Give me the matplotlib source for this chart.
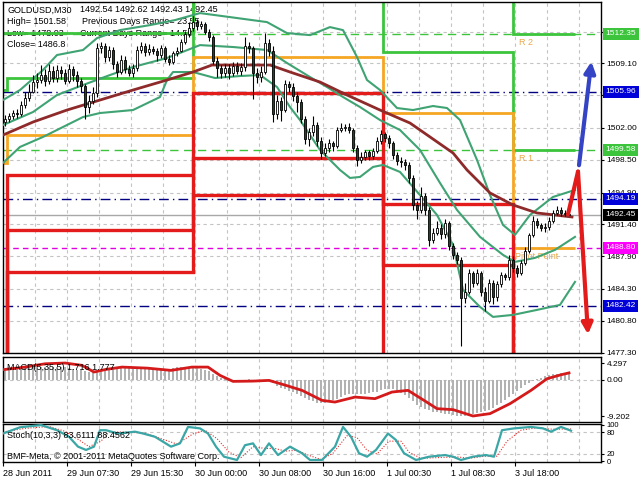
import matplotlib
matplotlib.use('Agg')
import matplotlib.pyplot as plt
import matplotlib.transforms as mtransforms
import numpy as np

plt.rcParams['font.family'] = ['Liberation Sans', 'DejaVu Sans']

# ---- candles (M30 bars) ----
opens = [1502.6, 1503.0, 1503.3, 1503.6, 1503.5, 1504.5, 1505.3, 1506.0, 1507.0, 1507.3,
         1507.8, 1507.2, 1508.3, 1507.5, 1508.4, 1508.0, 1507.2, 1508.5, 1507.8, 1507.2,
         1506.6, 1504.3, 1505.0, 1505.8, 1510.8, 1511.0, 1509.8, 1510.6, 1509.0, 1508.2,
         1509.5, 1508.5, 1508.0, 1508.6, 1510.6, 1511.0, 1510.3, 1510.7, 1510.5, 1510.0,
         1510.8, 1509.6, 1509.3, 1510.2, 1510.5, 1511.4, 1512.3, 1513.0, 1513.6, 1513.2,
         1513.4, 1512.6, 1512.0, 1509.4, 1508.6, 1508.0, 1508.6, 1508.0, 1508.8, 1508.3,
         1508.7, 1511.0, 1510.8, 1508.0, 1507.6, 1508.2, 1511.3, 1510.5, 1503.5, 1505.0,
         1504.0, 1506.8, 1506.5, 1505.5, 1504.8, 1503.0, 1500.8, 1501.5, 1502.3, 1500.6,
         1499.2, 1499.8, 1500.3, 1500.0, 1501.8, 1502.0, 1502.1, 1501.8, 1499.8, 1498.5,
         1498.8, 1499.3, 1498.9, 1499.5, 1500.6, 1501.3, 1500.9, 1500.3, 1499.0, 1498.4,
         1498.2, 1497.9, 1496.5, 1493.5, 1493.0, 1494.5, 1493.0, 1489.7, 1490.5, 1491.0,
         1490.3, 1491.5, 1489.0, 1488.0, 1487.5, 1483.3, 1484.0, 1486.0, 1485.0, 1486.1,
         1484.0, 1483.0, 1485.0, 1483.4, 1484.8, 1485.8, 1485.6, 1487.5, 1486.6, 1486.0,
         1487.1, 1488.5, 1490.2, 1491.8, 1491.3, 1491.0, 1491.1, 1491.8, 1492.6, 1493.0,
         1492.7, 1492.54]
highs = [1503.4, 1503.6, 1504.0, 1504.1, 1505.0, 1505.9, 1506.8, 1507.8, 1508.0, 1508.9,
         1508.5, 1509.0, 1508.8, 1508.9, 1508.8, 1508.5, 1509.0, 1508.8, 1508.3, 1507.5,
         1506.8, 1505.6, 1506.5, 1511.3, 1511.5, 1511.3, 1511.0, 1510.9, 1509.4, 1510.0,
         1509.9, 1508.9, 1509.0, 1511.0, 1511.5, 1511.3, 1511.2, 1511.0, 1510.8, 1511.1,
         1511.0, 1510.0, 1510.5, 1510.9, 1511.8, 1512.7, 1513.6, 1514.3, 1514.0, 1513.8,
         1513.6, 1512.9, 1512.2, 1509.8, 1508.9, 1509.0, 1509.0, 1509.2, 1509.2, 1509.1,
         1512.0, 1511.5, 1511.0, 1508.6, 1508.8, 1512.4, 1511.8, 1511.0, 1505.6, 1505.4,
         1507.3, 1507.2, 1506.9, 1505.9, 1505.2, 1503.3, 1502.0, 1503.3, 1502.6, 1501.0,
         1500.3, 1500.8, 1500.6, 1502.1, 1502.5, 1502.4, 1502.5, 1502.0, 1500.1, 1499.3,
         1499.6, 1499.6, 1499.8, 1501.0, 1501.8, 1501.6, 1501.2, 1500.6, 1499.4, 1498.8,
         1498.6, 1498.3, 1496.8, 1494.0, 1495.5, 1494.9, 1493.3, 1491.0, 1491.8, 1491.4,
         1492.0, 1491.8, 1489.3, 1488.4, 1487.8, 1485.0, 1486.5, 1486.3, 1486.5, 1486.3,
         1484.5, 1485.4, 1485.3, 1485.2, 1486.2, 1486.1, 1488.0, 1487.9, 1486.9, 1487.5,
         1488.9, 1490.5, 1492.3, 1492.1, 1491.6, 1491.5, 1492.2, 1493.0, 1493.4, 1493.3,
         1493.0, 1492.62]
lows = [1502.2, 1502.7, 1503.0, 1503.1, 1503.3, 1504.2, 1505.0, 1505.8, 1506.4, 1506.9,
        1506.6, 1506.8, 1507.0, 1507.1, 1507.4, 1506.8, 1506.9, 1507.2, 1506.5, 1506.0,
        1503.0, 1503.6, 1504.6, 1505.4, 1510.2, 1509.2, 1509.4, 1508.5, 1507.6, 1507.9,
        1508.0, 1507.7, 1507.6, 1508.3, 1510.2, 1509.9, 1510.0, 1510.1, 1509.4, 1509.7,
        1509.2, 1508.9, 1509.0, 1509.9, 1510.3, 1511.2, 1512.0, 1512.7, 1512.8, 1512.9,
        1512.3, 1511.6, 1509.0, 1507.6, 1507.5, 1507.6, 1507.4, 1507.7, 1507.9, 1507.8,
        1508.3, 1510.2, 1505.2, 1506.9, 1507.1, 1507.9, 1509.9, 1502.6, 1503.0, 1502.8,
        1503.7, 1505.9, 1505.0, 1503.8, 1502.5, 1500.2, 1500.0, 1501.1, 1500.0, 1498.6,
        1498.9, 1499.4, 1499.5, 1499.8, 1501.5, 1501.7, 1501.4, 1499.3, 1497.8, 1498.1,
        1498.5, 1498.5, 1498.6, 1499.2, 1500.2, 1500.5, 1499.8, 1498.6, 1497.9, 1497.7,
        1497.4, 1496.0, 1493.0, 1492.0, 1492.6, 1492.4, 1489.0, 1489.4, 1490.2, 1489.8,
        1489.9, 1488.6, 1487.6, 1487.0, 1478.0, 1482.8, 1483.7, 1484.5, 1484.7, 1483.5,
        1481.9, 1482.7, 1482.6, 1483.0, 1484.5, 1485.3, 1485.3, 1486.2, 1485.6, 1485.8,
        1486.9, 1488.3, 1490.0, 1491.0, 1490.7, 1490.6, 1490.8, 1491.6, 1492.4, 1492.3,
        1492.3, 1492.43]
closes = [1503.0, 1503.3, 1503.6, 1503.5, 1504.5, 1505.3, 1506.0, 1507.0, 1507.3, 1507.8,
          1507.2, 1508.3, 1507.5, 1508.4, 1508.0, 1507.2, 1508.5, 1507.8, 1507.2, 1506.6,
          1504.3, 1505.0, 1505.8, 1510.8, 1511.0, 1509.8, 1510.6, 1509.0, 1508.2, 1509.5,
          1508.5, 1508.0, 1508.6, 1510.6, 1511.0, 1510.3, 1510.7, 1510.5, 1510.0, 1510.8,
          1509.6, 1509.3, 1510.2, 1510.5, 1511.4, 1512.3, 1513.0, 1513.6, 1513.2, 1513.4,
          1512.6, 1512.0, 1509.4, 1508.6, 1508.0, 1508.6, 1508.0, 1508.8, 1508.3, 1508.7,
          1511.0, 1510.8, 1508.0, 1507.6, 1508.2, 1511.3, 1510.5, 1503.5, 1505.0, 1504.0,
          1506.8, 1506.5, 1505.5, 1504.8, 1503.0, 1500.8, 1501.5, 1502.3, 1500.6, 1499.2,
          1499.8, 1500.3, 1500.0, 1501.8, 1502.0, 1502.1, 1501.8, 1499.8, 1498.5, 1498.8,
          1499.3, 1498.9, 1499.5, 1500.6, 1501.3, 1500.9, 1500.3, 1499.0, 1498.4, 1498.2,
          1497.9, 1496.5, 1493.5, 1493.0, 1494.5, 1493.0, 1489.7, 1490.5, 1491.0, 1490.3,
          1491.5, 1489.0, 1488.0, 1487.5, 1483.3, 1484.0, 1486.0, 1485.0, 1486.1, 1484.0,
          1483.0, 1485.0, 1483.4, 1484.8, 1485.8, 1485.6, 1487.5, 1486.6, 1486.0, 1487.1,
          1488.5, 1490.2, 1491.8, 1491.3, 1491.0, 1491.1, 1491.8, 1492.6, 1493.0, 1492.7,
          1492.54, 1492.45]

# ---- moving average and Bollinger bands (bar, price) ----
ma_x = [-0.5, 7, 15.5, 23.75, 32, 40.5, 47, 51.75, 60.5, 66.25, 71.25, 78.75, 85.5,
        93.75, 101.25, 106.25, 112, 115.5, 121.25, 127, 133, 141.75]
ma_y = [1501.22, 1502.65, 1503.97, 1505.07, 1506.17, 1507.27, 1508.15, 1508.92, 1508.92,
        1508.92, 1508.15, 1507.05, 1505.62, 1503.97, 1502.54, 1501.01, 1499.25, 1497.38,
        1494.85, 1493.53, 1492.65, 1492.21]

bb_up_x = [-0.5, 3.75, 9.5, 13, 19.5, 23, 28.75, 36.25, 42.5, 48.75, 56.25, 65.5, 70.5,
           76.25, 81.25, 84.5, 88, 90.5, 93.75, 98, 102, 107, 110.5, 113.75, 118, 121.25,
           124.5, 127.5, 131.25, 137, 142.5]
bb_up_y = [1505.07, 1506.17, 1508.37, 1510.02, 1510.57, 1511.88, 1512.76, 1513.31, 1513.86,
           1514.63, 1514.19, 1513.64, 1512.43, 1512.21, 1513.09, 1512.76, 1509.80, 1507.27,
           1506.17, 1504.19, 1503.97, 1504.41, 1504.19, 1502.87, 1498.48, 1494.63, 1491.33,
           1490.24, 1492.43, 1494.41, 1495.18]
bb_mid_x = [-0.5, 7, 13, 19.5, 26.25, 32, 40.5, 48.75, 57, 65.5, 70.5, 76.25, 80.5, 84.5,
            88.75, 93.75, 98.75, 103.75, 108.75, 113, 118.75, 124.5, 127.5, 132.5, 137.5,
            142.5]
bb_mid_y = [1502.32, 1503.75, 1505.62, 1506.72, 1507.82, 1508.70, 1509.69, 1511.11,
            1510.90, 1510.57, 1509.14, 1507.60, 1506.50, 1505.40, 1504.30, 1502.87,
            1501.77, 1499.58, 1495.95, 1492.98, 1490.02, 1488.04, 1487.27, 1487.71,
            1488.59, 1490.02]
bb_low_x = [-0.5, 3.75, 9.5, 19.5, 23.75, 32, 38.75, 40.5, 42, 47, 52.5, 58.75, 63.75, 68,
            71.25, 73.75, 78.75, 83.75, 86.25, 88.75, 92, 94.5, 98.75, 102, 108, 112, 114.5,
            118.75, 122, 127, 133, 138.75, 142.5]
bb_low_y = [1498.15, 1499.91, 1501.01, 1503.20, 1503.64, 1503.97, 1505.40, 1507.27,
            1508.15, 1508.15, 1507.49, 1507.71, 1507.82, 1506.50, 1504.30, 1502.87,
            1499.58, 1497.38, 1496.50, 1496.61, 1497.71, 1497.93, 1497.16, 1495.51,
            1492.43, 1489.14, 1484.19, 1482.32, 1481.22, 1481.44, 1481.99, 1482.54,
            1485.07]

# ---- daily pivot levels (one value per day) ----
day_edges = [-0.5, 0.5, 47, 94.5, 127, 142.5]
r2_levels = [1512.43, 1512.43, 1520.00, 1520.00, 1512.35]
r1_levels = [1506.17, 1507.49, 1518.00, 1510.35, 1499.58]
pp_levels = [1498.15, 1501.22, 1509.80, 1503.64, 1488.80]
s1_levels = [1470.00, 1496.83, 1505.84, 1493.64, 1476.02]
s2_levels = [1470.00, 1490.79, 1498.70, 1486.94, 1465.25]
s3_levels = [1470.00, 1486.17, 1494.63, 1470.00, 1460.00]

# ---- horizontal price levels with right-side labels ----
level_prices = [1512.35, 1505.96, 1499.58, 1494.19, 1492.45, 1488.80, 1482.42]
level_box = ['#3cc43c', '#0000d8', '#3cc43c', '#0000d8', '#000000', '#ff00ff', '#0000d8']
level_line = ['#3cc43c', '#000080', '#3cc43c', '#000080', '#a8a8a8', '#e000e0', '#000080']
level_style = [(0, (6, 4)), (0, (7, 3, 1, 3)), (0, (6, 4)), (0, (7, 3, 1, 3)), '-',
               (0, (4, 3)), (0, (7, 3, 1, 3))]

price_ticks = [1477.30, 1480.80, 1484.30, 1487.90, 1491.40, 1494.90, 1498.50, 1502.00,
               1505.60, 1509.10, 1512.60]
price_tick_labels = ['1477.30', '1480.80', '1484.30', '1487.90', '1491.40', '1494.90',
                     '1498.50', '1502.00', '', '1509.10', '']

# ---- forecast arrows (bar, price) ----
blue_arrow_x = [143.5, 146.6]
blue_arrow_y = [1497.9, 1509.3]
red_arrow_x = [140.75, 143.25, 145.75]
red_arrow_y = [1492.5, 1497.2, 1479.3]

# ---- MACD(5,35,5) ----
macd_hist = [2.9, 3.0, 3.1, 3.1, 3.2, 3.2,
             3.2, 3.3, 3.3, 3.4, 3.4, 3.4, 3.4, 3.3, 3.3, 3.2,
             3.0, 2.8, 2.6, 2.4, 2.2,
             1.9, 1.9, 2.3,
             2.7, 2.9, 3.0, 3.1, 3.1, 3.2, 3.2,
             3.2, 3.1, 3.1, 3.0, 2.9, 2.8, 2.6, 2.5, 2.4, 2.5,
             2.8, 3.0, 3.2, 3.3, 3.4, 3.4, 3.3,
             3.1, 2.8, 2.5, 2.2, 1.6,
             0.9, 0.4, 0.1, -0.2, -0.3,
             -0.4, -0.3, -0.1, 0.1, -0.1, -0.3,
             -0.3, 0.0, -0.2, -0.9,
             -1.5, -2.0, -2.4, -2.8, -3.2,
             -3.6, -4.1, -4.6, -5.0, -5.4, -5.8,
             -6.0, -5.9, -5.6, -5.2, -4.8,
             -4.3, -3.9, -3.6, -3.5, -3.6,
             -3.6, -3.5, -3.4, -3.2, -3.0, -2.6,
             -2.3, -2.2, -2.4, -2.8, -3.3,
             -3.9, -4.6, -5.5, -6.3, -6.9,
             -7.4, -7.8, -8.1, -8.3, -8.5,
             -8.6, -8.8, -9.0, -9.1, -9.2,
             -9.1, -8.9, -8.7, -8.5, -8.3,
             -8.0, -7.6, -7.1, -6.5, -5.9,
             -5.1, -4.3, -3.6, -2.9, -2.1,
             -1.3, -0.7, -0.2, 0.3, 0.6,
             0.9, 1.2, 1.4, 1.55, 1.65, 1.7, 1.716]
macd_sig_x = [-0.5, 5, 10, 15, 19.25, 22.25, 25.25, 29.25, 35.5, 41.5, 46.75, 50.75, 53.75,
              57, 62, 66, 70.25, 74.25, 79.25, 82.5, 87.5, 92.5, 96.75, 100.75, 104.75, 108,
              112, 117, 121.25, 126.25, 131.5, 135.5, 139, 141]
macd_sig_y = [2.6, 3.26, 4.1, 4.297, 3.7, 2.0, 2.67, 3.26, 3.0, 2.42, 3.26, 3.26, 1.15,
              -0.38, -0.31, -0.13, -1.4, -2.67, -5.22, -5.65, -4.38, -4.78, -3.1, -2.67,
              -5.22, -7.33, -7.58, -9.202, -8.6, -6.06, -2.67, 0.3, 1.3, 1.777]

# ---- Stochastic(10,3,3) ----
stoch_x = [-0.5, 3.75, 9, 13, 16, 18.25, 20.25, 22.25, 23.75, 25.25, 28.25, 32.5, 34.5,
           37.5, 41.5, 43.75, 45.75, 48.75, 50.75, 52.75, 54.75, 58, 60, 62, 64, 66, 68.25,
           71.25, 74.25, 76.25, 79.25, 82.5, 84.5, 86.5, 88.5, 90.5, 92.75, 95.75, 97.75,
           99.75, 102.75, 106, 110, 112, 114, 117, 120.25, 122.25, 124.25, 127.25, 131.5,
           134.5, 136.5, 139, 141.5]
stoch_main = [76, 93, 99, 85, 67, 40, 31, 40, 85, 85, 76, 81, 76, 67, 40, 49, 94, 90, 76,
              40, 12.5, 3.5, 44, 49, 17, 49, 17, 40, 22, 3.5, 3.5, 40, 94, 67, 22, 12.5, 31,
              76, 58, 22, 3.5, 12.5, 17, 12.5, 3.5, 12.5, 17, 12.5, 85, 90, 94, 90, 81, 94,
              83.6]
stoch_sig_x = [-0.5, 5, 11, 15, 18, 21, 24, 26, 30, 35, 39, 43, 47, 50, 53, 56, 59, 62, 65,
               67.5, 70, 73, 76, 79, 82, 85.5, 88, 90.5, 93, 96, 99, 101, 104, 108, 113, 116,
               120, 123, 125.5, 129, 133, 136, 139, 141.5]
stoch_sig = [80, 90, 95, 82, 62, 40, 55, 80, 80, 77, 62, 47, 75, 85, 62, 25, 10, 40, 35, 35,
             28, 30, 16, 5, 22, 70, 65, 30, 20, 55, 55, 25, 8, 10, 12, 8, 14, 14, 55, 85, 92,
             88, 88, 88.5]

time_labels = ['28 Jun 2011', '29 Jun 07:30', '29 Jun 15:30', '30 Jun 00:00', '30 Jun 08:00',
               '30 Jun 16:00', '1 Jul 00:30', '1 Jul 08:30', '3 Jul 18:00']
time_label_bars = [-0.5, 15.5, 31.5, 47.5, 63.5, 79.5, 95.5, 111.5, 127.5]

# ---------------- figure ----------------
W, H = 640.0, 480.0
fig = plt.figure(figsize=(6.4, 4.8), dpi=100, facecolor='white')


def box(x0, y0, x1, y1):
    return [x0 / W, 1 - y1 / H, (x1 - x0) / W, (y1 - y0) / H]


ax = fig.add_axes(box(3, 2, 601, 353))
axm = fig.add_axes(box(3, 357, 601, 422))
axs = fig.add_axes(box(3, 424, 601, 462))

grid_kw = dict(color='#c4c4c4', lw=0.8, ls=(0, (3, 3)), zorder=0)
grid_x = np.arange(7.5, 149, 8)
for a in (ax, axm, axs):
    a.set_xlim(-0.5, 149)
    a.set_facecolor('white')
    for sp in a.spines.values():
        sp.set_color('black')
        sp.set_linewidth(1)
    for gx in grid_x:
        a.axvline(gx, **grid_kw)
    a.yaxis.tick_right()
    a.tick_params(axis='y', labelsize=6, length=2, pad=2, colors='black')
    a.set_xticks([])

# main price panel
ax.set_ylim(1477.25, 1515.85)
ax.set_yticks(price_ticks)
ax.set_yticklabels(price_tick_labels)
for t in price_ticks:
    ax.axhline(t, **grid_kw)

for p, col, ls in zip(level_prices, level_line, level_style):
    ax.axhline(p, color=col, lw=1.0, ls=ls, zorder=1)

for lv, col, lw in [(r2_levels, '#3cc43c', 2), (r1_levels, '#3cc43c', 2),
                    (pp_levels, '#f5a623', 2), (s1_levels, '#e41b1b', 2.4),
                    (s2_levels, '#e41b1b', 2.4), (s3_levels, '#e41b1b', 2.4)]:
    ax.stairs(lv, day_edges, baseline=None, color=col, lw=lw, zorder=2)

ax.text(128.5, r2_levels[-1] - 1.0, 'R 2', color='#eaa848', fontsize=6.5, va='center', zorder=2)
ax.text(128.5, r1_levels[-1] - 0.9, 'R 1', color='#eaa848', fontsize=6.5, va='center', zorder=2)
ax.text(127.5, pp_levels[-1] - 0.9, 'Pivot Point', color='#eaa848', fontsize=6.5,
        va='center', zorder=2)

ax.plot(bb_up_x, bb_up_y, color='#3fa373', lw=1.5, zorder=3)
ax.plot(bb_mid_x, bb_mid_y, color='#3fa373', lw=1.5, zorder=3)
ax.plot(bb_low_x, bb_low_y, color='#3fa373', lw=1.5, zorder=3)
ax.plot(ma_x, ma_y, color='#8e2a2a', lw=2, zorder=3)

o = np.array(opens)
hi = np.array(highs)
lo = np.array(lows)
c = np.array(closes)
bars = np.arange(len(c))
up = c >= o
ax.vlines(bars, lo, hi, color='black', lw=0.8, zorder=4)
body_bottom = np.minimum(o, c)
body_height = np.maximum(np.abs(c - o), 0.08)
ax.bar(bars[up], body_height[up], bottom=body_bottom[up], width=0.7, color='white',
       edgecolor='black', lw=0.6, zorder=5)
ax.bar(bars[~up], body_height[~up], bottom=body_bottom[~up], width=0.7, color='#1d4a22',
       edgecolor='black', lw=0.6, zorder=5)

ax.annotate('', xy=(blue_arrow_x[1], blue_arrow_y[1]), xytext=(blue_arrow_x[0], blue_arrow_y[0]),
            arrowprops=dict(arrowstyle='-|>', color='#3444c4', lw=3, mutation_scale=16,
                            shrinkA=0, shrinkB=0), zorder=6)
ax.plot(red_arrow_x[:2], red_arrow_y[:2], color='#e41b1b', lw=3, zorder=6,
        solid_capstyle='round')
ax.annotate('', xy=(red_arrow_x[2], red_arrow_y[2]), xytext=(red_arrow_x[1], red_arrow_y[1]),
            arrowprops=dict(arrowstyle='-|>', color='#e41b1b', lw=3, mutation_scale=16,
                            shrinkA=0, shrinkB=0), zorder=6)

trans = mtransforms.blended_transform_factory(ax.transAxes, ax.transData)
for p, col in zip(level_prices, level_box):
    ax.text(1 + 4.5 / 598, p, '%.2f' % p, transform=trans, color='white', fontsize=6,
            va='center', ha='left', clip_on=False, zorder=10,
            bbox=dict(boxstyle='square,pad=0.3', fc=col, ec='none'))

# info text, top-left
txt = dict(fontsize=6.5, color='black', va='center', ha='left', transform=fig.transFigure,
           zorder=1)
ax.text(7 / W, 1 - 10 / H, 'GOLDUSD,M30', **txt)
ax.text(80 / W, 1 - 10 / H, '%.2f %.2f %.2f %.2f' % (opens[-1], highs[-1], lows[-1], closes[-1]),
        **txt)
ax.text(7 / W, 1 - 21.5 / H, 'High= 1501.58', **txt)
ax.text(82 / W, 1 - 21.5 / H, 'Previous Days Range= 23.55', **txt)
ax.text(7 / W, 1 - 33 / H, 'Low= 1478.03', **txt)
ax.text(80 / W, 1 - 33 / H, 'Current Days Range= 14.59', **txt)
ax.text(7 / W, 1 - 44.5 / H, 'Close= 1486.8', **txt)

# MACD panel
axm.set_ylim(-10.73, 5.83)
axm.axhline(0, **grid_kw)
axm.bar(bars, macd_hist, width=0.45, color='#b2b2b2', zorder=2)
axm.plot(macd_sig_x, macd_sig_y, color='#d41a1a', lw=2, zorder=3)
axm.set_yticks([4.297, 0.0, -9.202])
axm.set_yticklabels(['4.297', '0.00', '-9.202'])
axm.text(7 / W, 1 - 367 / H, 'MACD(5,35,5) 1.716 1.777', fontsize=6.5, va='center',
         transform=fig.transFigure, zorder=5)

# Stochastic panel
axs.set_ylim(-2, 102)
for lvl in (20, 80):
    axs.axhline(lvl, **grid_kw)
axs.plot(stoch_sig_x, stoch_sig, color='#e03030', lw=0.8, ls=(0, (1, 1.5)), zorder=2)
axs.plot(stoch_x, stoch_main, color='#3aa6a6', lw=1.6, zorder=3)
axs.set_yticks([0, 20, 80, 100])
axs.set_yticklabels(['0', '20', '80', '100'], fontsize=5.5)
axs.text(7 / W, 1 - 436 / H, 'Stoch(10,3,3) 83.6111 88.4562', fontsize=6.5, va='center',
         transform=fig.transFigure, zorder=5)
axs.text(7 / W, 1 - 456.5 / H, 'BMF-Meta, \u00a9 2001-2011 MetaQuotes Software Corp.',
         fontsize=6.5, va='center', transform=fig.transFigure, zorder=5)

axs.set_xticks(time_label_bars)
axs.set_xticklabels(time_labels, ha='left', fontsize=6.5)
axs.tick_params(axis='x', length=3, pad=2, colors='black')

fig.savefig('out.png', dpi=100, facecolor='white')
